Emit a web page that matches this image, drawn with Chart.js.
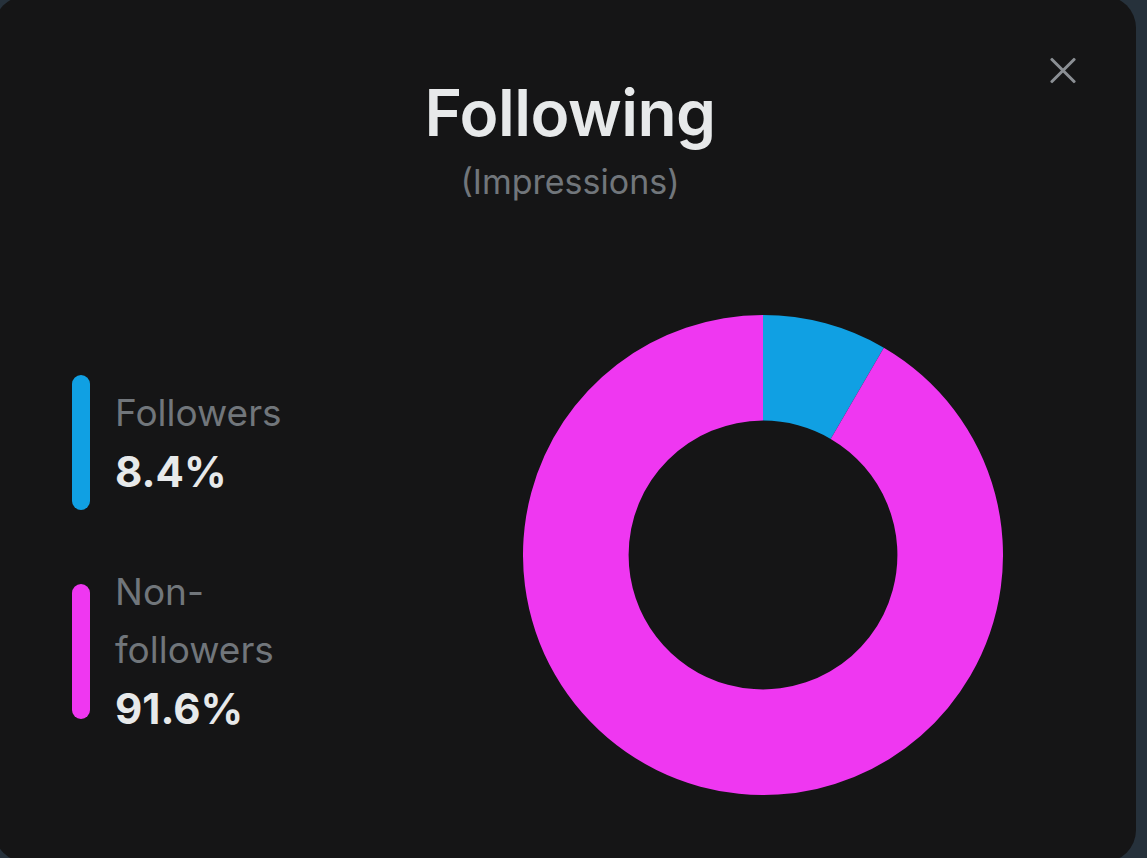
<!DOCTYPE html>
<html>
<head>
<meta charset="utf-8">
<script src="https://cdn.jsdelivr.net/npm/chart.js@4.4.1/dist/chart.umd.min.js"></script>
<style>
  html, body {
    margin: 0;
    padding: 0;
    width: 1147px;
    height: 858px;
    overflow: hidden;
    background: #26313b;
    font-family: "Inter", "Noto Sans", sans-serif;
  }
  .card {
    position: absolute;
    left: -6px;
    top: -4px;
    width: 1142px;
    height: 866px;
    border-radius: 32px;
    background: #151516;
  }
  .title {
    position: absolute;
    left: 0;
    width: 1140px;
    top: 81px;
    text-align: center;
    color: #e7e9ea;
    font-size: 64px;
    font-weight: 600;
    line-height: 64px;
    letter-spacing: -0.5px;
  }
  .subtitle {
    position: absolute;
    left: 0;
    width: 1140px;
    top: 162px;
    text-align: center;
    color: #71767b;
    font-size: 34px;
    line-height: 40px;
  }
  .close {
    position: absolute;
    left: 1049px;
    top: 56px;
    width: 28px;
    height: 28px;
  }
  .close::before, .close::after {
    content: "";
    position: absolute;
    left: -3px;
    top: 12.5px;
    width: 34px;
    height: 3px;
    background: #8b8f94;
    border-radius: 1px;
  }
  .close::before { transform: rotate(45deg); }
  .close::after { transform: rotate(-45deg); }
  #legend {
    position: absolute;
    left: 72px;
    top: 375px;
    display: flex;
    flex-direction: column;
    gap: 53px;
  }
  .item {
    display: flex;
    align-items: center;
  }
  .bar {
    width: 18px;
    height: 135px;
    border-radius: 9px;
    flex: none;
  }
  .txt {
    margin-left: 25px;
    width: 185px;
  }
  .lbl {
    color: #71767b;
    font-size: 37px;
    line-height: 58px;
  }
  .val {
    color: #e7e9ea;
    font-size: 42px;
    font-weight: 700;
    line-height: 60px;
  }
  .chart-box {
    position: absolute;
    left: 523px;
    top: 315px;
    width: 480px;
    height: 480px;
  }
</style>
</head>
<body>
<div class="card"></div>
<div class="title">Following</div>
<div class="subtitle">(Impressions)</div>
<div class="close"></div>
<div id="legend"></div>
<div class="chart-box"><canvas id="myChart"></canvas></div>

<script>
const labels = ["Followers", "Non-followers"];
const shares = [8.4, 91.6];
const colors = ["#10a0e3", "#ef37f1"];

// legend on the left, built from the same arrays
const legend = document.getElementById("legend");
labels.forEach((label, i) => {
  const item = document.createElement("div");
  item.className = "item";
  item.innerHTML = `
    <div class="bar" style="background:${colors[i]}"></div>
    <div class="txt">
      <div class="lbl">${label}</div>
      <div class="val">${shares[i].toFixed(1)}%</div>
    </div>
  `;
  legend.appendChild(item);
});

const ctx = document.getElementById("myChart").getContext("2d");

new Chart(ctx, {
  type: "doughnut",
  data: {
    labels: labels,
    datasets: [
      {
        data: shares,
        backgroundColor: colors,
        borderWidth: 0,
      },
    ],
  },
  options: {
    responsive: true,
    maintainAspectRatio: false,
    animation: false,
    cutout: "56%",
    layout: { padding: 0 },
    plugins: {
      legend: { display: false },
      tooltip: { enabled: false },
    },
  },
});
</script>
</body>
</html>
